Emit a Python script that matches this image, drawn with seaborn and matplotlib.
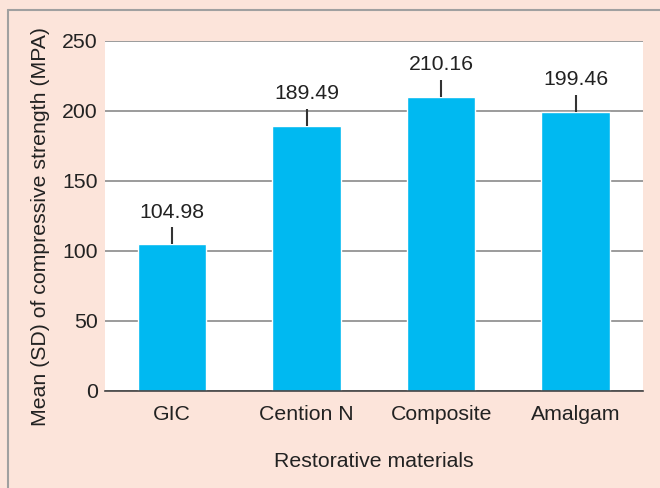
import matplotlib
matplotlib.use("Agg")
import matplotlib.pyplot as plt
import seaborn as sns
import pandas as pd
from matplotlib.lines import Line2D

materials = ["GIC", "Cention N", "Composite", "Amalgam"]
means = [104.98, 189.49, 210.16, 199.46]
sd = [12, 12, 12, 12]
yticks = [0, 50, 100, 150, 200, 250]

df = pd.DataFrame({"material": materials, "mean": means})

sns.set_style("white")
plt.rcParams['font.family'] = ['Liberation Sans', 'DejaVu Sans']
bg = "#fce4da"
txt = "#222222"
fs = 15.3

fig = plt.figure(figsize=(6.6, 4.88), dpi=100, facecolor=bg)
ax = fig.add_axes([0.159, 0.199, 0.815, 0.717])
ax.set_facecolor("white")

sns.barplot(data=df, x="material", y="mean", color="#00b9f1", saturation=1,
            width=0.51, ax=ax, errorbar=None)
# upper SD whisker only, no cap
ax.errorbar(range(len(means)), means, yerr=[[0] * len(sd), sd], fmt="none",
            ecolor="#333333", elinewidth=1.5, capsize=0)

for i, v in enumerate(means):
    ax.text(i, v + sd[i] + 4, f"{v:.2f}", ha="center", va="bottom",
            fontsize=fs, color=txt)

ax.set_ylim(0, 250)
ax.set_xlim(-0.5, 3.5)
ax.set_yticks(yticks)
ax.yaxis.grid(True, color="#8a8a8a", linewidth=1.2)
ax.set_axisbelow(True)
for s in ["top", "right", "left"]:
    ax.spines[s].set_visible(False)
ax.spines["bottom"].set_color("#444444")
ax.spines["bottom"].set_linewidth(1.2)
ax.tick_params(axis="y", length=0, pad=5, labelsize=fs, labelcolor=txt)
ax.tick_params(axis="x", length=0, pad=10, labelsize=fs, labelcolor=txt)
ax.set_xlabel("Restorative materials", fontsize=fs, color=txt, labelpad=20)
ax.set_ylabel("Mean (SD) of compressive strength (MPA)", fontsize=fs,
              color=txt)
ax.yaxis.set_label_coords(-0.103, 0.47)

# frame lines on the left and top of the figure
fig.add_artist(Line2D([8 / 660, 8 / 660], [0, 1 - 10 / 488],
                      transform=fig.transFigure, color="#a0a0a0", linewidth=1.5))
fig.add_artist(Line2D([8 / 660, 1], [1 - 10 / 488, 1 - 10 / 488],
                      transform=fig.transFigure, color="#a0a0a0", linewidth=1.5))

fig.savefig("out.png", dpi=100, facecolor=bg)
